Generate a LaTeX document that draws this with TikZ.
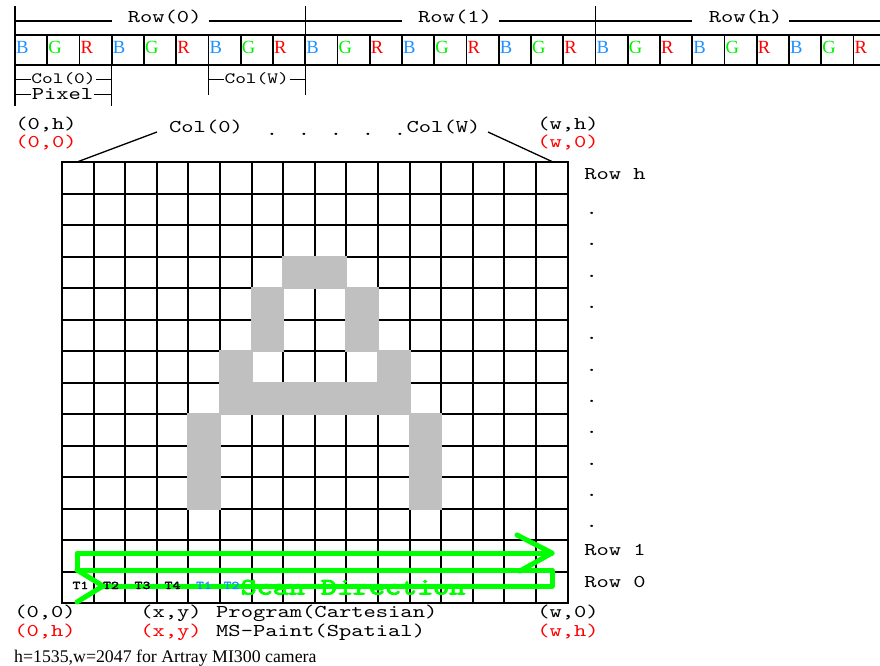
\documentclass[tikz,border=0pt]{standalone}
\usepackage{fontspec}
\setmainfont{Liberation Serif}
\newfontfamily\monof{lmmono10-regular}[Extension=.otf, FakeStretch=1.3]
\newfontfamily\monobf{lmmono10-regular}[Extension=.otf, FakeStretch=1.3, FakeBold=2.5]
\newfontfamily\monobfx{lmmono10-regular}[Extension=.otf, FakeStretch=1.3, FakeBold=4]
\definecolor{bgrB}{RGB}{30,144,255}
\definecolor{bgrG}{RGB}{0,238,0}
\definecolor{bgrR}{RGB}{255,0,0}
\definecolor{scangreen}{RGB}{0,255,0}
\definecolor{cellgray}{RGB}{192,192,192}
\begin{document}
\begin{tikzpicture}[x=1pt,y=-1pt,
  strip/.style={line width=1.8pt},
  bracket/.style={line width=1.3pt},
  gridline/.style={line width=2pt},
  chan/.style={font=\fontsize{18.6}{19}\selectfont, inner sep=0pt, anchor=base west},
  mono/.style={font=\monof\fontsize{18}{18}\selectfont, inner sep=0pt, anchor=base},
  monosmall/.style={font=\monof\fontsize{15.7}{15.7}\selectfont, inner sep=0pt, anchor=base},
  redlab/.style={mono, text=bgrR},
  tlab/.style={font=\monobf\fontsize{11.7}{11.7}\selectfont, inner sep=0pt, anchor=base},
  scan/.style={draw=scangreen, line width=5pt, line join=round, line cap=round},
  leader/.style={line width=1.3pt}]
\useasboundingbox (0,0) rectangle (880,666);

% ---------------- top pixel strip ----------------
\foreach \k in {0,...,27} \draw[strip] ({15+32.25*\k},35) -- ({15+32.25*\k},65);
\draw[strip] (15,35) -- (890,35);
\draw[strip] (15,65) -- (890,65);
\foreach \j in {0,1,2}
  \foreach \i/\L/\C in {0/B/bgrB,1/G/bgrG,2/R/bgrR,3/B/bgrB,4/G/bgrG,5/R/bgrR,6/B/bgrB,7/G/bgrG,8/R/bgrR}
    \node[chan, text=\C] (ch\j\i) at ({15+32.25*(9*\j+\i)+1},54) {\L};

% row brackets
\draw[bracket] (15,6) -- (15,106);
\draw[bracket] (305.25,6) -- (305.25,95);
\draw[bracket] (595.5,6) -- (595.5,65);
\draw[bracket] (111.75,65) -- (111.75,106);
\draw[bracket] (208.5,65) -- (208.5,95);
\draw[bracket] (15,21) -- (111.75,21);
\draw[bracket] (208.5,21) -- (305.25,21);
\draw[bracket] (305.25,21) -- (402,21);
\draw[bracket] (498.75,21) -- (595.5,21);
\draw[bracket] (595.5,21) -- (692.25,21);
\draw[bracket] (789,21) -- (890,21);
\node[mono] (row0) at (164.7,22.7) {Row(0)};
\node[mono] (row1) at (455,22.7) {Row(1)};
\node[mono] (rowh) at (745.6,22.7) {Row(h)};

% column / pixel brackets
\draw[bracket] (15,79.3) -- (31,79.3);
\draw[bracket] (96,79.3) -- (111.75,79.3);
\draw[bracket] (15,94.3) -- (31,94.3);
\draw[bracket] (94,94.3) -- (111.75,94.3);
\draw[bracket] (208.5,79.3) -- (224,79.3);
\draw[bracket] (289.5,79.3) -- (305.25,79.3);
\node[monosmall] (bcol0) at (63.5,83.3) {Col(0)};
\node[mono] (bpix) at (62.5,99.5) {Pixel};
\node[monosmall] (bcolw) at (256.7,83.3) {Col(W)};

% ---------------- corner and column labels ----------------
\node[mono] (tl1) at (46,129.3) {(0,h)};
\node[redlab] (tl2) at (46,147.3) {(0,0)};
\node[mono] (tr1) at (568,129.3) {(w,h)};
\node[redlab] (tr2) at (568,147.3) {(w,0)};
\node[mono] (mcol0) at (206,132.5) {Col(0)};
\node[mono] (mcolw) at (443.5,132.5) {Col(W)};
\node[font=\monof\fontsize{18}{18}\selectfont, inner sep=0pt, anchor=center] (mdots) at (336,134)
  {.\hspace{19.7pt}.\hspace{19.7pt}.\hspace{19.7pt}.\hspace{19.7pt}.};
\coordinate (c0a) at (157,132);
\coordinate (c0b) at (77,162);
\coordinate (cwa) at (488,132);
\coordinate (cwb) at (553,162);
\draw[leader] (c0a) -- (c0b);
\draw[leader] (cwa) -- (cwb);

% ---------------- grid ----------------
\foreach \i in {0,...,16} \draw[gridline] ({62+31.6*\i},162) -- ({62+31.6*\i},603);
\foreach \j in {0,...,14} \draw[gridline] (61,{162+31.5*\j}) -- (568.6,{162+31.5*\j});

% gray letter A
\foreach \a/\b/\c/\d in {7/3/9/4, 6/4/7/6, 9/4/10/6, 5/6/6/7, 10/6/11/7, 5/7/11/8, 4/8/5/11, 11/8/12/11}
  \fill[cellgray] ({62+31.6*\a-1},{162+31.5*\b-1}) rectangle ({62+31.6*\c+1},{162+31.5*\d+1});

% row labels on right
\node[mono] (rlh) at (615,179.3) {Row h};
\foreach \n in {0,...,10}
  \node[font=\monof\fontsize{18}{18}\selectfont, inner sep=0pt, anchor=center] (rd\n) at (591.7,{213.3+31.34*\n}) {.};
\node[mono] (rl1) at (615,555) {Row 1};
\node[mono] (rl0) at (615,587) {Row 0};

% ---------------- scan direction ----------------
\coordinate (g1) at (77,602);
\coordinate (g2) at (103,586);
\coordinate (g3) at (77,570);
\coordinate (g4) at (552,586);
\coordinate (g5) at (552,570);
\coordinate (g6) at (77,553);
\coordinate (g7) at (552,553);
\coordinate (a1) at (517,535);
\coordinate (a2) at (520,571);
\draw[scan] (g1) -- (g2) -- (g3);
\draw[scan] (g2) -- (g4) -- (g5) -- (g3) -- (g6) -- (g7);
\draw[scan] (a1) -- (g7) -- (a2);
\node[tlab] (t1) at (80.5,589) {T1};
\node[tlab] (t2) at (111,589) {T2};
\node[tlab] (t3) at (142.5,589) {T3};
\node[tlab] (t4) at (172.5,589) {T4};
\node[tlab, text=bgrB] (t5) at (204,589) {T1};
\node[tlab, text=bgrB] (t6) at (231.5,589) {T2};
\node[font=\monobfx\fontsize{23.5}{24}\selectfont, inner sep=0pt, anchor=base, text=scangreen] (scantext) at (353,594.5) {Scan Direction};

% ---------------- bottom labels ----------------
\node[mono] (bl1) at (45,617) {(0,0)};
\node[redlab] (bl2) at (45,636) {(0,h)};
\node[mono] (bx1) at (171,617) {(x,y)};
\node[redlab] (bx2) at (171,636) {(x,y)};
\node[mono, anchor=base west] (prog) at (216,617) {Program(Cartesian)};
\node[mono, anchor=base west] (mspaint) at (216,636) {MS-Paint(Spatial)};
\node[mono] (br1) at (568,617) {(w,0)};
\node[redlab] (br2) at (568,636) {(w,h)};
\node[font=\fontsize{17.8}{18}\selectfont, inner sep=0pt, anchor=base west] (note) at (14,662)
  {h=1535,w=2047 for Artray MI300 camera};
\end{tikzpicture}
\end{document}
